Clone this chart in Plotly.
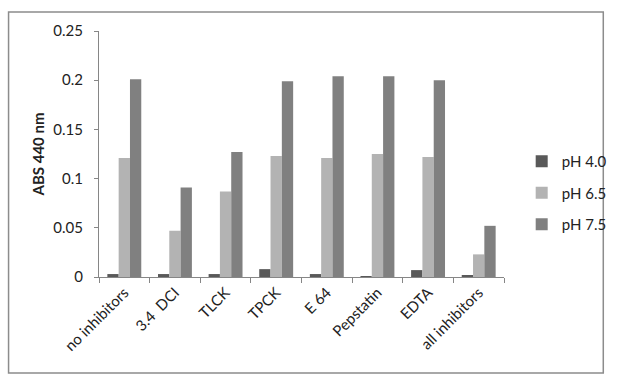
import plotly.graph_objects as go

categories = ["no inhibitors", "3.4  DCI", "TLCK", "TPCK", "E 64", "Pepstatin", "EDTA", "all inhibitors"]
ph40 = [0.003, 0.003, 0.003, 0.008, 0.003, 0.001, 0.007, 0.002]
ph65 = [0.121, 0.047, 0.087, 0.123, 0.121, 0.125, 0.122, 0.023]
ph75 = [0.201, 0.091, 0.127, 0.199, 0.204, 0.204, 0.200, 0.052]
series_names = ["pH 4.0", "pH 6.5", "pH 7.5"]
colors = ["#595959", "#b3b3b3", "#808080"]

W, H = 624, 379
L, R, T, B = 99, 113, 31, 102
pw, ph = W - L - R, H - T - B

def px_x(x):
    return (x - L) / pw

def px_y(y):
    return (H - B - y) / ph

fig = go.Figure()
for name, vals, c in zip(series_names, [ph40, ph65, ph75], colors):
    fig.add_trace(go.Bar(x=categories, y=vals, name=name, marker_color=c,
                         marker_line_width=0, legendgroup=name))

font = "Lato, 'Open Sans', sans-serif"
fig.update_layout(
    width=W, height=H,
    margin=dict(l=L, r=R, t=T, b=B),
    paper_bgcolor="white", plot_bgcolor="white",
    barmode="group", bargap=0.33, bargroupgap=0,
    font=dict(family=font, size=15, color="#222222"),
    showlegend=True,
    legend=dict(x=px_x(529), y=px_y(193), xanchor="left", yanchor="middle",
                font=dict(size=15, color="#222222"), tracegroupgap=9,
                bgcolor="rgba(0,0,0,0)", itemwidth=30),
    xaxis=dict(type="category", tickangle=-45, tickson="boundaries",
               ticks="outside", ticklen=5, tickcolor="#868686",
               showline=True, linecolor="#868686", linewidth=1,
               showgrid=False, tickfont=dict(size=15)),
    yaxis=dict(range=[0, 0.25], tickvals=[0, 0.05, 0.1, 0.15, 0.2, 0.25],
               ticktext=["0", "0.05", "0.1", "0.15", "0.2", "0.25"],
               ticks="outside", ticklen=4, tickcolor="#868686",
               ticklabelstandoff=8,
               showline=True, linecolor="#868686", linewidth=1,
               showgrid=False, zeroline=False, tickfont=dict(size=15),
               title=dict(text="<b>ABS 440 nm</b>", font=dict(size=15), standoff=5)),
    shapes=[dict(type="rect", xref="paper", yref="paper",
                 x0=px_x(7), x1=px_x(612), y0=px_y(373), y1=px_y(12),
                 line=dict(color="#8c8c8c", width=1.5), fillcolor="rgba(0,0,0,0)")],
)

fig.write_html("out.html")
